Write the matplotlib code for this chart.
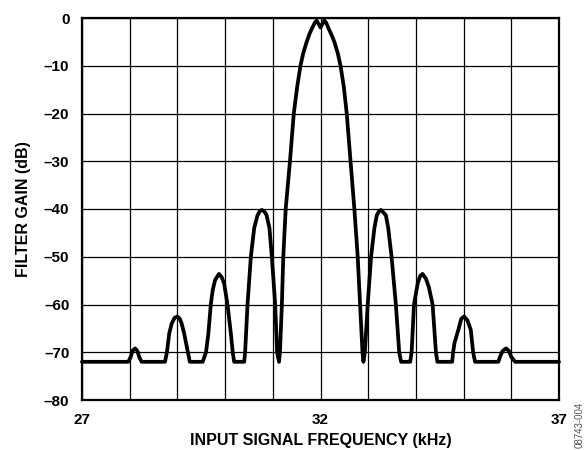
import matplotlib
matplotlib.use("Agg")
import matplotlib.pyplot as plt

plt.rcParams['font.family'] = ['Liberation Sans', 'DejaVu Sans']
plt.rcParams['font.weight'] = 'bold'

# filter response, floor clipped near -72 dB
freq_khz = [
    27.00, 27.97, 28.02, 28.06, 28.11, 28.16, 28.20, 28.25,
    28.74, 28.78, 28.83, 28.88, 28.94, 29.00, 29.05, 29.09, 29.14, 29.22, 29.26,
    29.53, 29.60, 29.65, 29.70, 29.74, 29.79, 29.87, 29.93, 29.98, 30.05, 30.12, 30.16, 30.19,
    30.40, 30.42, 30.47, 30.54, 30.61, 30.68, 30.73, 30.77, 30.82, 30.87, 30.93, 30.98, 31.05, 31.09, 31.13,
    31.15, 31.19, 31.22, 31.27, 31.36, 31.44, 31.51, 31.58, 31.64, 31.71, 31.77, 31.83, 31.88, 31.92, 32.00,
    32.08, 32.12, 32.17, 32.23, 32.29, 32.36, 32.42, 32.49, 32.55, 32.63, 32.71, 32.78, 32.83, 32.88, 32.90,
    32.93, 32.99, 33.06, 33.13, 33.18, 33.23, 33.27, 33.37, 33.42, 33.49, 33.58, 33.65, 33.69,
    33.88, 33.91, 33.96, 34.04, 34.09, 34.14, 34.21, 34.27, 34.35, 34.42, 34.45,
    34.76, 34.78, 34.81, 34.89, 34.95, 35.01, 35.08, 35.15, 35.20, 35.24,
    35.73, 35.76, 35.82, 35.89, 35.95, 36.00, 36.08, 37.00,
]
gain_db = [
    -72, -72, -71.0, -69.7, -69.2, -69.7, -71.0, -72,
    -72, -70, -66, -64, -62.8, -62.5, -63.0, -64, -66, -70, -72,
    -72, -70, -66, -60, -57, -54.9, -53.6, -54.3, -55.6, -60, -66, -70, -72,
    -72, -70, -60, -50, -44, -41.3, -40.4, -40.2, -40.5, -41.3, -44, -50, -60, -70, -72,
    -70, -60, -50, -40, -30, -20, -14.5, -10, -7.3, -5, -3.3, -2.0, -1.0, -0.5, -2.0,
    -0.5, -1.0, -2.2, -3.5, -5, -7.3, -10, -14.5, -20, -30, -40, -50, -60, -70, -72,
    -70, -60, -50, -44, -41.3, -40.4, -40.2, -41.3, -44, -50, -60, -70, -72,
    -72, -70, -60, -55.5, -54.0, -53.6, -54.6, -56.3, -60, -70, -72,
    -72, -70, -68, -65.3, -63.0, -62.5, -63.3, -65.3, -70, -72,
    -72, -71.0, -69.7, -69.2, -69.7, -71.0, -72, -72,
]

x_grid = list(range(27, 38))
x_labels = ["27", "", "", "", "", "32", "", "", "", "", "37"]
y_grid = [0, -10, -20, -30, -40, -50, -60, -70, -80]
y_labels = ["0", "–10", "–20", "–30", "–40", "–50", "–60", "–70", "–80"]

fig = plt.figure(figsize=(5.84, 4.5), dpi=100)
ax = fig.add_axes([82 / 584, 50 / 450, 477 / 584, 382 / 450])

ax.plot(freq_khz, gain_db, color='black', lw=2.7,
        solid_joinstyle='round', solid_capstyle='round', clip_on=False, zorder=3)

ax.set_xlim(27, 37)
ax.set_ylim(-80, 0)
ax.set_xticks(x_grid)
ax.set_xticklabels(x_labels)
ax.set_yticks(y_grid)
ax.set_yticklabels(y_labels)
ax.tick_params(length=0, labelsize=11, pad=9)
ax.grid(True, color='black', lw=0.9)
for s in ax.spines.values():
    s.set_linewidth(1.6)

ax.set_xlabel("INPUT SIGNAL FREQUENCY (kHz)", fontsize=11.5, fontweight='bold', labelpad=5)
ax.set_ylabel("FILTER GAIN (dB)", fontsize=11.5, fontweight='bold', labelpad=9)

fig.text(580 / 584, 1 - 402 / 450, "08743-004", rotation=90, fontsize=7,
         fontweight='normal', color='#555555', ha='center', va='top')

fig.savefig("out.png", dpi=100)
